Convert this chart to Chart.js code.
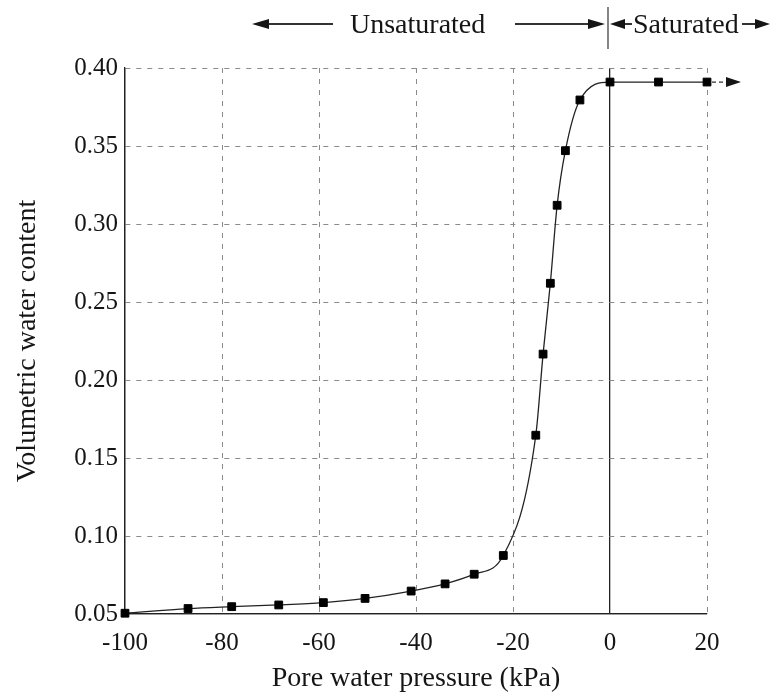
<!DOCTYPE html>
<html>
<head>
<meta charset="utf-8">
<script src="https://cdn.jsdelivr.net/npm/chart.js@4"></script>
<style>
  body { margin: 0; background: #fff; }
  #wrap { width: 771px; height: 699px; }
</style>
</head>
<body>
<div id="wrap"><canvas id="swcc" width="771" height="699"></canvas></div>
<script>
// soil-water characteristic curve
const pressure = [-100, -87, -78, -68.3, -59.1, -50.5, -41, -34, -28, -22, -15.3, -13.8, -12.3, -10.9, -9.2, -6.2, 0, 10, 20];
const waterContent = [0.0505, 0.0535, 0.0547, 0.0558, 0.0573, 0.060, 0.0647, 0.0693, 0.0755, 0.0875, 0.1646, 0.2166, 0.262, 0.312, 0.347, 0.3795, 0.391, 0.391, 0.391];
const xTicks = [-100, -80, -60, -40, -20, 0, 20];
const yTicks = [0.05, 0.10, 0.15, 0.20, 0.25, 0.30, 0.35, 0.40];

const serif = '"Liberation Serif", "Times New Roman", serif';
const ink = '#151515';

function arrowHead(ctx, tipX, y, dir, len, half) {
    ctx.beginPath();
    ctx.moveTo(tipX, y);
    ctx.lineTo(tipX - dir * len, y - half);
    ctx.lineTo(tipX - dir * len, y + half);
    ctx.closePath();
    ctx.fill();
}

// solid lines for the axes and the zero line, dashed grey for the rest
const solidX = v => v === -100 || v === 0;
const solidY = v => v === 0.05;

// arrows + region labels above the plot, and the arrow off the last point
const annotations = {
    id: 'annotations',
    afterDraw(chart) {
        const ctx = chart.ctx;
        const xs = chart.scales.x, ys = chart.scales.y;
        ctx.save();
        ctx.strokeStyle = '#333';
        ctx.fillStyle = ink;

        // arrow continuing the saturated branch
        const lastX = xs.getPixelForValue(pressure[pressure.length - 1]);
        const lastY = ys.getPixelForValue(waterContent[waterContent.length - 1]);
        ctx.lineWidth = 1.2;
        ctx.setLineDash([4, 3]);
        ctx.beginPath();
        ctx.moveTo(lastX + 5, lastY);
        ctx.lineTo(lastX + 20, lastY);
        ctx.stroke();
        ctx.setLineDash([]);
        arrowHead(ctx, lastX + 34, lastY, 1, 15, 5);

        // top labels
        const ay = 24;
        const zeroX = xs.getPixelForValue(0) - 2;
        ctx.lineWidth = 2;
        ctx.beginPath();
        ctx.moveTo(264, ay); ctx.lineTo(333, ay);
        ctx.moveTo(515, ay); ctx.lineTo(590, ay);
        ctx.moveTo(622, ay); ctx.lineTo(632, ay);
        ctx.moveTo(742, ay); ctx.lineTo(756, ay);
        ctx.stroke();
        arrowHead(ctx, 252, ay, -1, 17, 5);
        arrowHead(ctx, zeroX - 3, ay, 1, 17, 5);
        arrowHead(ctx, zeroX + 2, ay, -1, 15, 5);
        arrowHead(ctx, 770, ay, 1, 15, 5);

        ctx.lineWidth = 1.2;
        ctx.beginPath();
        ctx.moveTo(zeroX, 7);
        ctx.lineTo(zeroX, 49);
        ctx.stroke();

        ctx.font = '28px ' + serif;
        ctx.textBaseline = 'alphabetic';
        ctx.textAlign = 'left';
        ctx.fillText('Unsaturated', 350, 33);
        ctx.fillText('Saturated', 633, 33);
        ctx.restore();
    }
};

const ctx = document.getElementById('swcc').getContext('2d');
new Chart(ctx, {
    type: 'line',
    data: {
        datasets: [{
            data: pressure.map((p, i) => ({ x: p, y: waterContent[i] })),
            borderColor: '#222',
            borderWidth: 1.3,
            cubicInterpolationMode: 'monotone',
            pointStyle: 'rect',
            pointRadius: 5.5,
            pointBackgroundColor: '#000',
            pointBorderColor: '#000',
            pointBorderWidth: 1,
            clip: false
        }]
    },
    options: {
        responsive: false,
        animation: false,
        layout: { padding: { top: 68, right: 64, left: 0, bottom: 0 } },
        plugins: { legend: { display: false }, tooltip: { enabled: false } },
        scales: {
            x: {
                type: 'linear',
                min: -100,
                max: 20,
                afterBuildTicks: s => { s.ticks = xTicks.map(v => ({ value: v })); },
                afterFit: s => { s.height = 85; s.paddingLeft = 0; s.paddingRight = 0; },
                ticks: {
                    color: ink,
                    padding: 14,
                    font: { family: serif, size: 25 },
                    callback: v => String(v)
                },
                grid: {
                    drawTicks: false,
                    color: ctx => ctx.tick && solidX(ctx.tick.value) ? '#222' : '#8a8a8a',
                    lineWidth: ctx => ctx.tick && solidX(ctx.tick.value) ? 1.3 : 1
                },
                border: {
                    color: '#222',
                    width: 1.3,
                    dash: ctx => ctx.tick && solidX(ctx.tick.value) ? [] : [5, 6]
                },
                title: {
                    display: true,
                    text: 'Pore water pressure (kPa)',
                    color: ink,
                    font: { family: serif, size: 28 },
                    padding: { top: 0, bottom: 4 }
                }
            },
            y: {
                min: 0.05,
                max: 0.40,
                afterBuildTicks: s => { s.ticks = yTicks.map(v => ({ value: v })); },
                afterFit: s => { s.width = 125; s.paddingTop = 0; s.paddingBottom = 0; },
                ticks: {
                    color: ink,
                    padding: 7,
                    font: { family: serif, size: 25 },
                    callback: v => v.toFixed(2)
                },
                grid: {
                    drawTicks: false,
                    color: ctx => ctx.tick && solidY(ctx.tick.value) ? '#222' : '#8a8a8a',
                    lineWidth: ctx => ctx.tick && solidY(ctx.tick.value) ? 1.3 : 1
                },
                border: {
                    color: '#222',
                    width: 1.3,
                    dash: ctx => ctx.tick && solidY(ctx.tick.value) ? [] : [5, 6]
                },
                title: {
                    display: true,
                    text: 'Volumetric water content',
                    color: ink,
                    font: { family: serif, size: 28 },
                    padding: { top: 11, bottom: 0 }
                }
            }
        }
    },
    plugins: [annotations]
});
</script>
</body>
</html>
